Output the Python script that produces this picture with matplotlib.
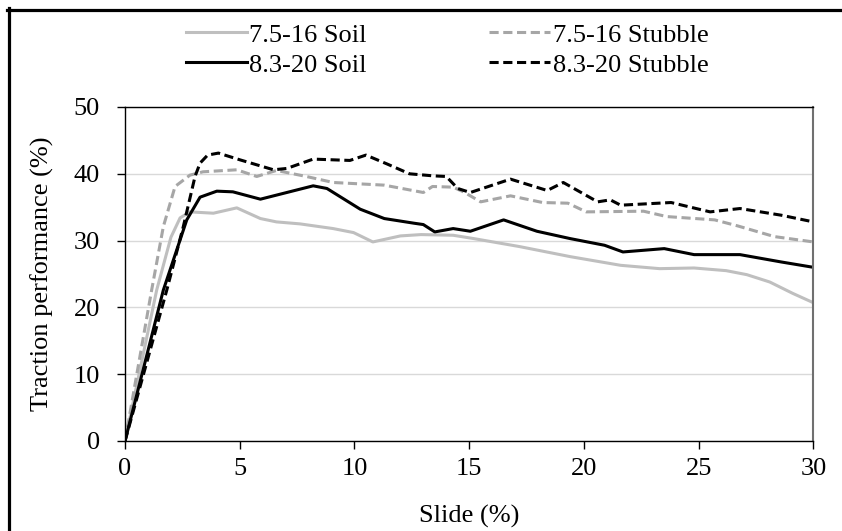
import matplotlib
matplotlib.use("Agg")
import matplotlib.pyplot as plt
from matplotlib.lines import Line2D

# 7.5-16 Soil
soil_75_x = [0, 1.38, 2.0, 2.4, 2.83, 3.85, 4.87, 5.9, 6.6, 7.63, 9.07, 9.96, 10.8,
             12.0, 12.9, 14.3, 15.2, 17.2, 19.4, 21.6, 23.3, 24.8, 26.2, 27.1, 28.1, 29.1, 30.0]
soil_75_y = [0, 22.6, 30.5, 33.4, 34.3, 34.1, 34.9, 33.3, 32.8, 32.5, 31.8, 31.2, 29.8,
             30.7, 30.9, 30.8, 30.3, 29.1, 27.6, 26.3, 25.8, 25.9, 25.5, 24.9, 23.8, 22.1, 20.7]

# 7.5-16 Stubble
stub_75_x = [0, 1.16, 1.67, 2.18, 2.83, 3.4, 4.87, 5.74, 6.6, 7.9, 9.07, 11.3, 13.0,
             13.4, 14.3, 14.75, 15.5, 16.8, 18.2, 19.3, 20.1, 22.6, 23.6, 25.7, 26.7, 28.3, 30.0]
stub_75_y = [0, 22.6, 32.1, 38.1, 39.8, 40.3, 40.6, 39.6, 40.5, 39.6, 38.7, 38.3, 37.2,
             38.1, 38.0, 37.3, 35.8, 36.7, 35.7, 35.6, 34.3, 34.4, 33.6, 33.1, 32.2, 30.6, 29.8]

# 8.3-20 Soil
soil_83_x = [0, 1.67, 2.69, 3.27, 4.0, 4.7, 5.9, 7.05, 8.2, 8.8, 10.25, 11.3, 12.6,
             13.0, 13.5, 14.3, 15.05, 16.5, 17.95, 19.4, 20.9, 21.7, 23.5, 24.8, 26.8, 28.6, 30.0]
soil_83_y = [0, 22.6, 33.1, 36.5, 37.4, 37.3, 36.2, 37.2, 38.2, 37.8, 34.7, 33.3, 32.6,
             32.4, 31.3, 31.8, 31.4, 33.1, 31.4, 30.3, 29.3, 28.3, 28.8, 27.9, 27.9, 26.8, 26.0]

# 8.3-20 Stubble
stub_83_x = [0, 1.82, 2.54, 3.05, 3.27, 3.6, 4.07, 5.0, 6.47, 7.05, 8.2, 9.8, 10.5, 11.4,
             12.4, 13.4, 14.0, 14.5, 15.05, 16.8, 18.4, 19.1, 20.6, 21.15, 21.6, 23.8, 25.5,
             26.8, 28.6, 30.0]
stub_83_y = [0, 22.6, 32.1, 39.6, 41.6, 42.8, 43.1, 42.1, 40.6, 40.8, 42.2, 42.0, 42.8, 41.5,
             40.0, 39.7, 39.6, 37.8, 37.2, 39.2, 37.5, 38.7, 35.8, 36.1, 35.3, 35.7, 34.3,
             34.8, 33.8, 32.8]

plt.rcParams['font.family'] = ['Liberation Serif', 'DejaVu Serif']
plt.rcParams['font.size'] = 19

fig = plt.figure(figsize=(8.42, 5.31), dpi=100)
ax = fig.add_axes([0.1485, 0.1695, 0.8175, 0.629])

lw = 2.2
l1, = ax.plot(soil_75_x, soil_75_y, color='#BFBFBF', lw=lw, label='7.5-16 Soil', solid_joinstyle='round')
l2, = ax.plot(stub_75_x, stub_75_y, color='#A6A6A6', lw=lw, dashes=(3.0, 1.5), label='7.5-16 Stubble')
l3, = ax.plot(soil_83_x, soil_83_y, color='black', lw=lw, label='8.3-20 Soil', solid_joinstyle='round')
l4, = ax.plot(stub_83_x, stub_83_y, color='black', lw=lw, dashes=(3.0, 1.5), label='8.3-20 Stubble')

ax.set_xlim(0, 30)
ax.set_ylim(0, 50)
ax.set_xticks([0, 5, 10, 15, 20, 25, 30])
ax.set_yticks([0, 10, 20, 30, 40, 50])
ax.yaxis.grid(True, color='#D9D9D9', lw=1)
ax.set_axisbelow(True)
ax.tick_params(direction='out', length=6, width=1, color='black')
ax.tick_params(axis='y', pad=12)
ax.tick_params(axis='x', pad=6)
for s in ['left', 'bottom', 'top']:
    ax.spines[s].set_color('black')
    ax.spines[s].set_linewidth(1)
ax.spines['right'].set_color('#707070')
ax.spines['right'].set_linewidth(1.5)

ax.set_xlabel('Slide (%)', labelpad=18)
ax.set_ylabel('Traction performance (%)')
ax.yaxis.set_label_coords(-0.103, 0.5)

# legend filled row by row like the original
ax.legend([l1, l3, l2, l4], [l1.get_label(), l3.get_label(), l2.get_label(), l4.get_label()],
          loc='lower center', bbox_to_anchor=(0.468, 1.0), ncol=2, frameon=False,
          handlelength=2.3, handletextpad=0.1, columnspacing=4.65, labelspacing=0.25,
          borderaxespad=0.75)

# outer frame (top and left edges)
fig.add_artist(Line2D([7 / 842, 1], [1 - 9.5 / 531, 1 - 9.5 / 531], color='black', lw=2.3,
                      transform=fig.transFigure))
fig.add_artist(Line2D([8.5 / 842, 8.5 / 842], [0, 1 - 8 / 531], color='black', lw=2.3,
                      transform=fig.transFigure))

fig.savefig('out.png', dpi=100)
